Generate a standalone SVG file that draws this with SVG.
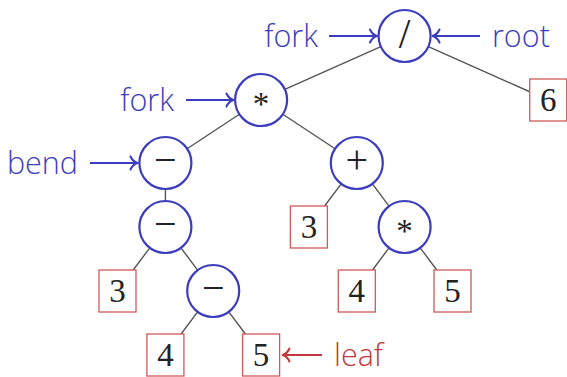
<svg xmlns="http://www.w3.org/2000/svg" width="567" height="377" viewBox="0 0 567 377">
<defs>
<style>
.op{fill:#fff;stroke:#3c3cbe;stroke-width:2.2}
.lf{fill:#fff;stroke:#d05a5a;stroke-width:1.3}
.sym{font-family:"Liberation Serif","Times New Roman",serif;font-size:33px;fill:#222;text-anchor:middle}
.big{font-size:40px}
.edge{stroke:#555;stroke-width:1.4;fill:none}
.lbl{font-family:"Open Sans","Noto Sans",sans-serif;font-size:30.5px;font-weight:300}
.blue{fill:#3c3cbe}
.red{fill:#c0393b}
.ab{stroke:#3c3cbe;stroke-width:2;fill:none}
.ar{stroke:#c0393b;stroke-width:2;fill:none}
</style>
<marker id="mb" viewBox="-9 -8 10 16" refX="0" refY="0" markerWidth="10" markerHeight="16" markerUnits="userSpaceOnUse" orient="auto">
<path d="M-7,-6.5 C-5,-2 -2,-0.6 0,0 C-2,0.6 -5,2 -7,6.5" fill="none" stroke="#3c3cbe" stroke-width="2" stroke-linecap="round"/>
</marker>
<marker id="mr" viewBox="-9 -8 10 16" refX="0" refY="0" markerWidth="10" markerHeight="16" markerUnits="userSpaceOnUse" orient="auto">
<path d="M-7,-6.5 C-5,-2 -2,-0.6 0,0 C-2,0.6 -5,2 -7,6.5" fill="none" stroke="#c0393b" stroke-width="2" stroke-linecap="round"/>
</marker>
</defs>
<rect width="567" height="377" fill="#fff"/>
<g id="connectors">
<line class="edge" x1="380.85" y1="46.59" x2="284.85" y2="89.41"/>
<line class="edge" x1="428.35" y1="46.59" x2="529.7" y2="91.76"/>
<line class="edge" x1="239.39" y1="114.29" x2="187.11" y2="148.71"/>
<line class="edge" x1="282.81" y1="114.29" x2="335.09" y2="148.71"/>
<line class="edge" x1="165.4" y1="189" x2="165.4" y2="201"/>
<line class="edge" x1="341.22" y1="183.82" x2="324.61" y2="206"/>
<line class="edge" x1="372.38" y1="183.82" x2="389.02" y2="206.18"/>
<line class="edge" x1="149.82" y1="247.82" x2="133.21" y2="270"/>
<line class="edge" x1="180.98" y1="247.82" x2="197.62" y2="270.18"/>
<line class="edge" x1="389.02" y1="247.82" x2="372.51" y2="270"/>
<line class="edge" x1="420.18" y1="247.82" x2="436.79" y2="270"/>
<line class="edge" x1="197.62" y1="311.82" x2="181.11" y2="334"/>
<line class="edge" x1="228.78" y1="311.82" x2="245.39" y2="334"/>
<line class="ab" x1="329" y1="36" x2="377" y2="36" marker-end="url(#mb)"/>
<line class="ab" x1="480" y1="36" x2="432.5" y2="36" marker-end="url(#mb)"/>
<line class="ab" x1="186" y1="100" x2="233.5" y2="100" marker-end="url(#mb)"/>
<line class="ab" x1="90" y1="163" x2="137.5" y2="163" marker-end="url(#mb)"/>
<line class="ar" x1="322" y1="355" x2="282.5" y2="355" marker-end="url(#mr)"/>
</g>
<g id="lbl-fork1"><text class="lbl blue" x="318" y="47" text-anchor="end">fork</text></g>
<g id="lbl-root"><text class="lbl blue" x="492" y="47">root</text></g>
<g id="lbl-fork2"><text class="lbl blue" x="174" y="111" text-anchor="end">fork</text></g>
<g id="lbl-bend"><text class="lbl blue" x="78" y="174" text-anchor="end">bend</text></g>
<g id="lbl-leaf"><text class="lbl red" x="334" y="366">leaf</text></g>
<g id="n-div"><circle class="op" cx="404.6" cy="36" r="26"/><text class="sym" x="404.6" y="48" style="font-size:42px">/</text></g>
<g id="n-mul1"><circle class="op" cx="261.1" cy="100" r="26"/><text class="sym" x="261.1" y="115">*</text></g>
<g id="n-six"><rect class="lf" x="529.7" y="79" width="37" height="42"/><text class="sym" x="548.2" y="111">6</text></g>
<g id="n-sub1"><circle class="op" cx="165.4" cy="163" r="26"/><text class="sym big" x="165.4" y="173">−</text></g>
<g id="n-add"><circle class="op" cx="356.8" cy="163" r="26"/><text class="sym big" x="356.8" y="173">+</text></g>
<g id="n-sub2"><circle class="op" cx="165.4" cy="227" r="26"/><text class="sym big" x="165.4" y="237">−</text></g>
<g id="n-three2"><rect class="lf" x="290.4" y="206" width="37" height="42"/><text class="sym" x="308.9" y="238">3</text></g>
<g id="n-mul2"><circle class="op" cx="404.6" cy="227" r="26"/><text class="sym" x="404.6" y="242">*</text></g>
<g id="n-three1"><rect class="lf" x="99" y="270" width="37" height="42"/><text class="sym" x="117.5" y="302">3</text></g>
<g id="n-sub3"><circle class="op" cx="213.2" cy="291" r="26"/><text class="sym big" x="213.2" y="301">−</text></g>
<g id="n-four1"><rect class="lf" x="338.3" y="270" width="37" height="42"/><text class="sym" x="356.8" y="302">4</text></g>
<g id="n-five1"><rect class="lf" x="434" y="270" width="37" height="42"/><text class="sym" x="452.5" y="302">5</text></g>
<g id="n-four2"><rect class="lf" x="146.9" y="334" width="37" height="42"/><text class="sym" x="165.4" y="366">4</text></g>
<g id="n-five2"><rect class="lf" x="242.6" y="334" width="37" height="42"/><text class="sym" x="261.1" y="366">5</text></g>
</svg>
